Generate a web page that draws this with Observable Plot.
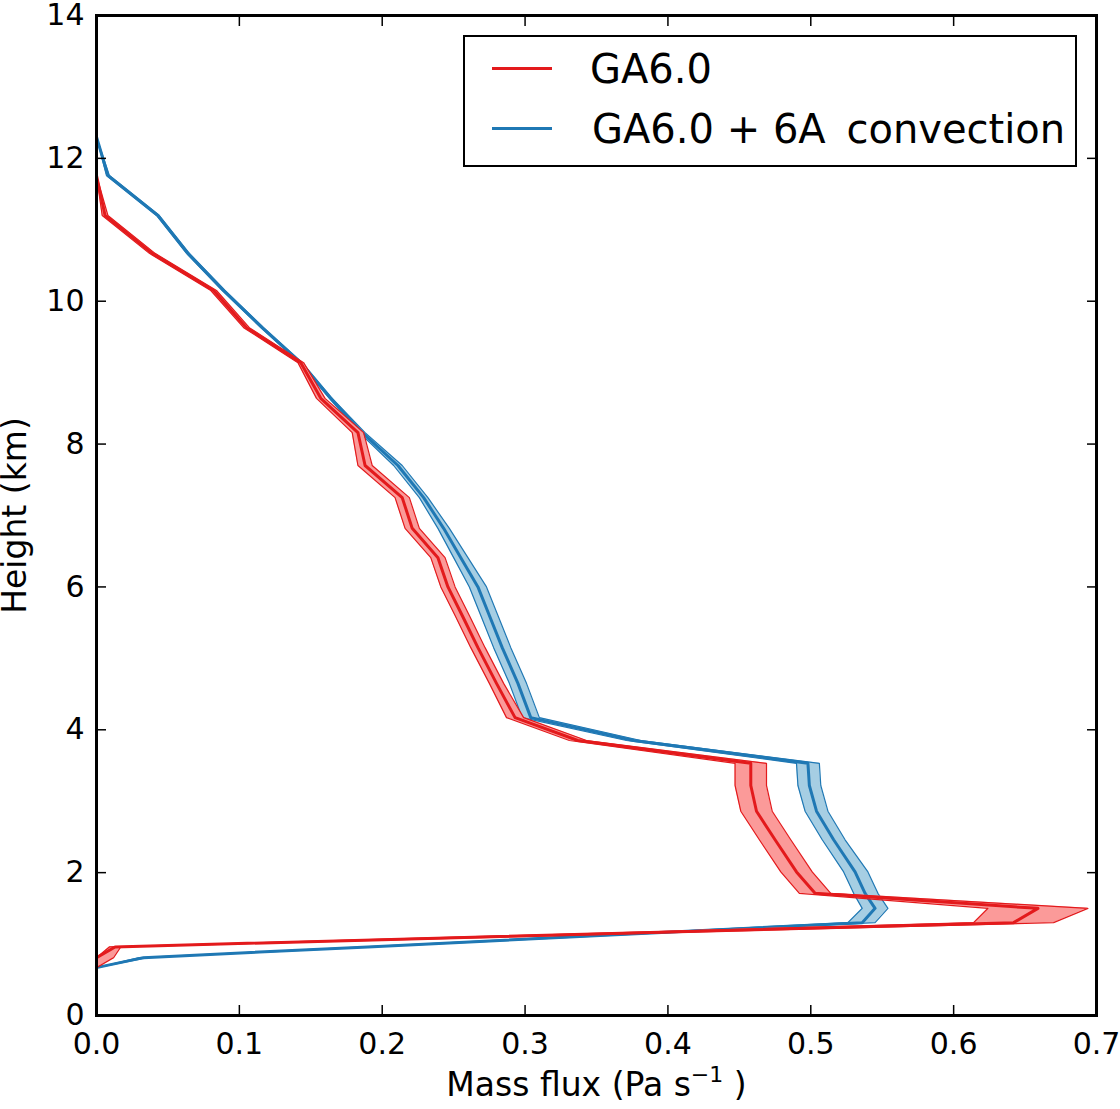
<!DOCTYPE html>
<html>
<head>
<meta charset="utf-8">
<script src="https://cdn.jsdelivr.net/npm/d3@7"></script>
<script src="https://cdn.jsdelivr.net/npm/@observablehq/plot@0.6"></script>
<style>
  body { margin: 0; background: white; }
  #wrap { position: relative; width: 1120px; height: 1109px; font-family: "DejaVu Sans", sans-serif; }
  #legend {
    position: absolute; left: 463px; top: 35px; width: 610px; height: 128px;
    border: 2.5px solid black; background: white; box-sizing: content-box;
  }
  .item { position: absolute; left: 0; font-size: 40px; white-space: pre; }
  .item .swatch { position: absolute; left: 27px; width: 60px; height: 3px; }
  .item span.txt { position: absolute; left: 125px; line-height: 1; }
</style>
</head>
<body>
<div id="wrap">
  <div id="chart"></div>
  <div id="legend">
    <div class="item" style="top:30px"><div class="swatch" style="background:#e31a1c; top:0px"></div><span class="txt" style="top:-18px">GA6.0</span></div>
    <div class="item" style="top:90px"><div class="swatch" style="background:#1f78b4; top:0px"></div><span class="txt" style="top:-18px;left:127px">GA6.0 + 6A &#8201;convection</span></div>
  </div>
</div>
<script>
// model levels (km)
const height = [0.67, 0.81, 0.96, 1.30, 1.50, 1.71, 2.01, 2.46, 2.86, 3.22, 3.53, 3.85, 4.17, 4.65, 5.15,
  5.60, 6.00, 6.41, 6.82, 7.25, 7.70, 8.16, 8.64, 9.14, 9.63, 10.15, 10.67, 11.20, 11.76, 12.30]

// GA6.0 mass flux: mean and spread
const ga6Mean = [0.000, 0.000, 0.013, 0.642, 0.659, 0.503, 0.490, 0.475, 0.462, 0.458, 0.458, 0.337, 0.293, 0.280, 0.267,
  0.256, 0.246, 0.239, 0.221, 0.214, 0.188, 0.183, 0.157, 0.143, 0.105, 0.082, 0.039, 0.006, 0.000, 0.000]
const ga6Lo = [0.000, 0.000, 0.009, 0.614, 0.624, 0.492, 0.479, 0.464, 0.451, 0.447, 0.447, 0.331, 0.287, 0.275, 0.262,
  0.251, 0.241, 0.234, 0.216, 0.209, 0.183, 0.179, 0.154, 0.141, 0.103, 0.080, 0.037, 0.004, 0.000, 0.000]
const ga6Hi = [0.000, 0.012, 0.017, 0.670, 0.694, 0.514, 0.501, 0.486, 0.473, 0.469, 0.469, 0.343, 0.299, 0.285, 0.272,
  0.261, 0.251, 0.244, 0.226, 0.219, 0.193, 0.187, 0.160, 0.145, 0.107, 0.084, 0.041, 0.008, 0.000, 0.000]

// GA6.0 + 6A convection
const conv6aMean = [0.000, 0.033, 0.190, 0.536, 0.545, 0.538, 0.531, 0.516, 0.504, 0.499, 0.498, 0.376, 0.304, 0.295, 0.284,
  0.275, 0.267, 0.255, 0.243, 0.229, 0.211, 0.186, 0.164, 0.143, 0.116, 0.089, 0.064, 0.043, 0.008, 0.000]
const conv6aLo = [0.000, 0.030, 0.187, 0.526, 0.536, 0.530, 0.523, 0.508, 0.496, 0.491, 0.490, 0.371, 0.298, 0.289, 0.278,
  0.269, 0.261, 0.250, 0.239, 0.226, 0.208, 0.184, 0.163, 0.142, 0.115, 0.088, 0.063, 0.042, 0.007, 0.000]
const conv6aHi = [0.000, 0.036, 0.193, 0.545, 0.554, 0.547, 0.540, 0.524, 0.512, 0.507, 0.506, 0.381, 0.310, 0.301, 0.290,
  0.281, 0.273, 0.260, 0.247, 0.232, 0.214, 0.188, 0.165, 0.144, 0.117, 0.090, 0.065, 0.044, 0.009, 0.000]

const xTicks = [0, 0.1, 0.2, 0.3, 0.4, 0.5, 0.6, 0.7]
const yTicks = [0, 2, 4, 6, 8, 10, 12, 14]

const series = [
  {name: 'GA6.0 + 6A convection', mean: conv6aMean, lo: conv6aLo, hi: conv6aHi, line: '#1f78b4', fill: '#a6cee3'},
  {name: 'GA6.0', mean: ga6Mean, lo: ga6Lo, hi: ga6Hi, line: '#e31a1c', fill: '#fb9a99'}
]

let marks = []
series.forEach(s => {
  let rows = height.map((h, i) => ({h: h, m: s.mean[i], lo: s.lo[i], hi: s.hi[i]}))
  marks.push(
    Plot.areaX(rows, {y: 'h', x1: 'lo', x2: 'hi', fill: s.fill, clip: true}),
    Plot.lineX(rows, {x: 'lo', y: 'h', stroke: s.line, strokeWidth: 1.2, clip: true}),
    Plot.lineX(rows, {x: 'hi', y: 'h', stroke: s.line, strokeWidth: 1.2, clip: true}),
    Plot.lineX(rows, {x: 'm', y: 'h', stroke: s.line, strokeWidth: 3, clip: true})
  )
})

let chart = Plot.plot({
  width: 1120,
  height: 1109,
  marginLeft: 96,
  marginRight: 24,
  marginTop: 15,
  marginBottom: 94,
  style: {fontFamily: 'DejaVu Sans', fontSize: '30px', color: 'black', background: 'white'},
  x: {domain: [0, 0.7], axis: null},
  y: {domain: [0, 14], axis: null},
  marks: [
    ...marks,
    Plot.axisX({anchor: 'bottom', ticks: xTicks, tickSize: -10, tickPadding: 27, strokeWidth: 1.5, tickFormat: d3.format('.1f'), label: null}),
    Plot.axisX({anchor: 'top', ticks: xTicks, tickSize: -10, strokeWidth: 1.5, tickFormat: () => '', label: null}),
    Plot.axisY({anchor: 'left', ticks: yTicks, tickSize: -10, tickPadding: 22, strokeWidth: 1.5, tickFormat: d3.format('d'), label: null}),
    Plot.axisY({anchor: 'right', ticks: yTicks, tickSize: -10, strokeWidth: 1.5, tickFormat: () => '', label: null}),
    Plot.frame({stroke: 'black', strokeWidth: 3}),
    Plot.text(['Mass flux (Pa s'], {frameAnchor: 'bottom', dy: 70, textAnchor: 'middle', lineAnchor: 'middle', fontSize: 33, fill: 'black', className: 'xlabel'}),
    Plot.text(['Height (km)'], {frameAnchor: 'left', dx: -81, rotate: -90, textAnchor: 'middle', lineAnchor: 'middle', fontSize: 33, fill: 'black'})
  ]
})

d3.select('#chart').append(() => chart)

// superscript for the unit
let lbl = d3.select(chart).select('g.xlabel text')
if (!lbl.empty()) {
  lbl.append('tspan').attr('dy', '-14').attr('font-size', '22').text('−1')
  lbl.append('tspan').attr('dy', '14').text(' )')
}
</script>
</body>
</html>
